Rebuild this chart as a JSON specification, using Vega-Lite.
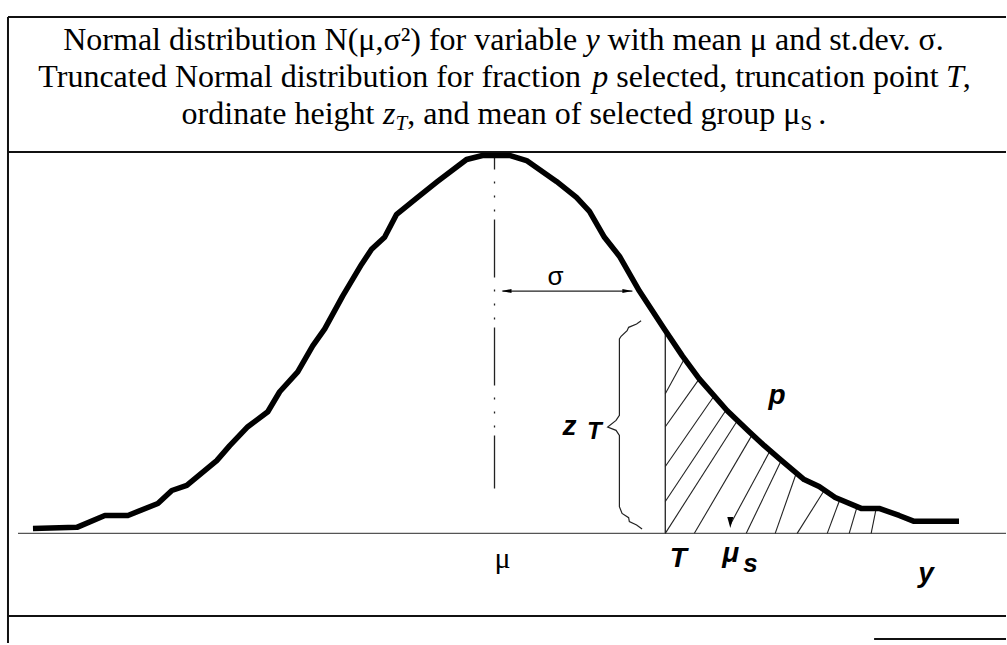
{
  "$schema": "https://vega.github.io/schema/vega-lite/v6.json",
  "width": 1007,
  "height": 645,
  "padding": 0,
  "autosize": {"type": "fit", "contains": "padding"},
  "background": "white",
  "config": {"view": {"stroke": null}},
  "datasets": {
    "frame": [
      {"sd": -3.4786, "density": 0.5424, "sd2": 3.6571, "density2": 0.5424},
      {"sd": -3.4786, "density": 0.4005, "sd2": 3.6571, "density2": 0.4005},
      {"sd": -3.4786, "density": 0.5424, "sd2": -3.4786, "density2": -0.1152},
      {"sd": -3.4786, "density": -0.0869, "sd2": 3.6571, "density2": -0.0869},
      {"sd": 2.714, "density": -0.111, "sd2": 3.6571, "density2": -0.111}
    ],
    "baseline": [
      {"sd": -3.407, "density": 0, "sd2": 3.6571, "density2": 0}
    ],
    "meanLine": [
      {"sd": 0, "density": 0.3958, "sd2": 0, "density2": 0.0471}
    ],
    "truncation": [
      {"sd": 1.221, "density": 0.2094, "sd2": 1.221, "density2": 0}
    ],
    "sigmaArrow": [
      {"sd": 0.057, "density": 0.2545, "sd2": 0.986, "density2": 0.2545}
    ],
    "hatch": [
      {"sd": 1.221, "density": 0.1466, "sd2": 1.357, "density2": 0.1832},
      {"sd": 1.221, "density": 0.112, "sd2": 1.464, "density2": 0.1623},
      {"sd": 1.221, "density": 0.0702, "sd2": 1.571, "density2": 0.1445},
      {"sd": 1.221, "density": 0.0335, "sd2": 1.657, "density2": 0.1298},
      {"sd": 1.221, "density": 0, "sd2": 1.736, "density2": 0.1183},
      {"sd": 1.429, "density": 0, "sd2": 1.843, "density2": 0.1037},
      {"sd": 1.686, "density": 0.0094, "sd2": 1.971, "density2": 0.0869},
      {"sd": 1.8, "density": 0, "sd2": 2.05, "density2": 0.0764},
      {"sd": 2.007, "density": 0, "sd2": 2.157, "density2": 0.0628},
      {"sd": 2.164, "density": 0, "sd2": 2.357, "density2": 0.045},
      {"sd": 2.379, "density": 0, "sd2": 2.464, "density2": 0.0335},
      {"sd": 2.536, "density": 0, "sd2": 2.593, "density2": 0.0283},
      {"sd": 2.693, "density": 0, "sd2": 2.729, "density2": 0.0262}
    ],
    "brace": [
      {"i": 1, "sd": 1.048, "density": 0.2234},
      {"i": 2, "sd": 1.016, "density": 0.2199},
      {"i": 3, "sd": 0.959, "density": 0.2164},
      {"i": 4, "sd": 0.948, "density": 0.2129},
      {"i": 5, "sd": 0.905, "density": 0.207},
      {"i": 6, "sd": 0.893, "density": 0.2042},
      {"i": 7, "sd": 0.893, "density": 0.1239},
      {"i": 8, "sd": 0.869, "density": 0.1186},
      {"i": 9, "sd": 0.809, "density": 0.1117},
      {"i": 10, "sd": 0.869, "density": 0.1082},
      {"i": 11, "sd": 0.893, "density": 0.1029},
      {"i": 12, "sd": 0.893, "density": 0.028},
      {"i": 13, "sd": 0.912, "density": 0.0209},
      {"i": 14, "sd": 0.959, "density": 0.0164},
      {"i": 15, "sd": 0.964, "density": 0.0123},
      {"i": 16, "sd": 1.016, "density": 0.0087},
      {"i": 17, "sd": 1.055, "density": 0.0045}
    ],
    "curve": [
      {"sd": -3.3, "density": 0.0052},
      {"sd": -2.986, "density": 0.0063},
      {"sd": -2.786, "density": 0.0188},
      {"sd": -2.621, "density": 0.0188},
      {"sd": -2.407, "density": 0.0314},
      {"sd": -2.307, "density": 0.045},
      {"sd": -2.2, "density": 0.0503},
      {"sd": -1.986, "density": 0.0764},
      {"sd": -1.893, "density": 0.0921},
      {"sd": -1.764, "density": 0.112},
      {"sd": -1.621, "density": 0.1277},
      {"sd": -1.536, "density": 0.1487},
      {"sd": -1.407, "density": 0.1696},
      {"sd": -1.3, "density": 0.1969},
      {"sd": -1.214, "density": 0.2147},
      {"sd": -1.086, "density": 0.2492},
      {"sd": -0.95, "density": 0.2827},
      {"sd": -0.879, "density": 0.2984},
      {"sd": -0.786, "density": 0.311},
      {"sd": -0.7, "density": 0.3351},
      {"sd": -0.55, "density": 0.3529},
      {"sd": -0.407, "density": 0.3696},
      {"sd": -0.2, "density": 0.3927},
      {"sd": -0.086, "density": 0.3969},
      {"sd": 0.107, "density": 0.3969},
      {"sd": 0.229, "density": 0.3916},
      {"sd": 0.443, "density": 0.3696},
      {"sd": 0.586, "density": 0.3529},
      {"sd": 0.679, "density": 0.3382},
      {"sd": 0.786, "density": 0.311},
      {"sd": 0.893, "density": 0.2911},
      {"sd": 1.036, "density": 0.2545},
      {"sd": 1.214, "density": 0.2147},
      {"sd": 1.343, "density": 0.1864},
      {"sd": 1.464, "density": 0.1623},
      {"sd": 1.664, "density": 0.1288},
      {"sd": 1.821, "density": 0.1068},
      {"sd": 1.929, "density": 0.0921},
      {"sd": 2.036, "density": 0.0785},
      {"sd": 2.214, "density": 0.0565},
      {"sd": 2.321, "density": 0.0492},
      {"sd": 2.436, "density": 0.0377},
      {"sd": 2.621, "density": 0.0262},
      {"sd": 2.75, "density": 0.0262},
      {"sd": 2.893, "density": 0.0188},
      {"sd": 3.0, "density": 0.0126},
      {"sd": 3.321, "density": 0.0126}
    ],
    "arrowLeft": [{"sd": 0.0857, "density": 0.2545}],
    "arrowRight": [{"sd": 0.95, "density": 0.2545}],
    "arrowDown": [{"sd": 1.686, "density": 0.0115}],
    "titleRoman": [
      {"sd": -3.0836, "density": 0.5079, "label": "Normal distribution N(μ,σ²) for variable"},
      {"sd": 0.8086, "density": 0.5079, "label": "with mean μ and st.dev. σ."},
      {"sd": -3.2617, "density": 0.4691, "label": "Truncated Normal distribution for fraction"},
      {"sd": 0.87, "density": 0.4691, "label": "selected, truncation point"},
      {"sd": 3.3484, "density": 0.4691, "label": ","},
      {"sd": -2.2371, "density": 0.4304, "label": "ordinate height"},
      {"sd": -0.6236, "density": 0.4304, "label": ", and mean of selected group μ"},
      {"sd": 2.315, "density": 0.4304, "label": "."}
    ],
    "titleItalic": [
      {"sd": 0.65, "density": 0.5079, "label": "y"},
      {"sd": 0.699, "density": 0.4691, "label": "p"},
      {"sd": 3.2284, "density": 0.4691, "label": "T"},
      {"sd": -0.7979, "density": 0.4304, "label": "z"}
    ],
    "titleSubItalic": [
      {"sd": -0.7086, "density": 0.4241, "label": "T"}
    ],
    "titleSubRoman": [
      {"sd": 2.1879, "density": 0.4241, "label": "S"}
    ],
    "meanLabel": [
      {"sd": 0.057, "density": -0.0368, "label": "μ"}
    ],
    "symbolLabels": [
      {"sd": 1.314, "density": -0.0357, "label": "T"},
      {"sd": 2.021, "density": 0.1361, "label": "p"},
      {"sd": 3.086, "density": -0.0513, "label": "y"},
      {"sd": 0.536, "density": 0.1037, "label": "z"}
    ],
    "symbolSub": [
      {"sd": 0.714, "density": 0.0995, "label": "T"}
    ],
    "selectedMean": [
      {"sd": 1.629, "density": -0.0305, "label": "μ"}
    ],
    "selectedSub": [
      {"sd": 1.779, "density": -0.0409, "label": "s"}
    ],
    "sigmaLabel": [
      {"sd": 0.436, "density": 0.2607, "label": "σ"}
    ]
  },
  "encoding": {
    "x": {
      "field": "sd",
      "type": "quantitative",
      "scale": {"domain": [-3.5357, 3.6571], "nice": false, "zero": false},
      "axis": null
    },
    "y": {
      "field": "density",
      "type": "quantitative",
      "scale": {"domain": [-0.11518, 0.56021], "nice": false, "zero": false},
      "axis": null
    }
  },
  "layer": [
    {
      "data": {"name": "frame"},
      "mark": {"type": "rule", "color": "#111111", "strokeWidth": 2},
      "encoding": {"x2": {"field": "sd2"}, "y2": {"field": "density2"}}
    },
    {
      "data": {"name": "baseline"},
      "mark": {"type": "rule", "color": "#555555", "strokeWidth": 1.4},
      "encoding": {"x2": {"field": "sd2"}, "y2": {"field": "density2"}}
    },
    {
      "data": {"name": "meanLine"},
      "mark": {
        "type": "rule",
        "color": "#222222",
        "strokeWidth": 1.3,
        "strokeDash": [58, 12, 2, 12, 2, 12, 2, 8],
        "strokeDashOffset": 45
      },
      "encoding": {"x2": {"field": "sd2"}, "y2": {"field": "density2"}}
    },
    {
      "data": {"name": "truncation"},
      "mark": {"type": "rule", "color": "#222222", "strokeWidth": 1.3},
      "encoding": {"x2": {"field": "sd2"}, "y2": {"field": "density2"}}
    },
    {
      "data": {"name": "sigmaArrow"},
      "mark": {"type": "rule", "color": "#222222", "strokeWidth": 1.3},
      "encoding": {"x2": {"field": "sd2"}, "y2": {"field": "density2"}}
    },
    {
      "data": {"name": "hatch"},
      "mark": {"type": "rule", "color": "#222222", "strokeWidth": 1.1},
      "encoding": {"x2": {"field": "sd2"}, "y2": {"field": "density2"}}
    },
    {
      "data": {"name": "brace"},
      "mark": {"type": "line", "color": "#222222", "strokeWidth": 1.2},
      "encoding": {"order": {"field": "i", "type": "quantitative"}}
    },
    {
      "data": {"name": "curve"},
      "mark": {
        "type": "line",
        "color": "#000000",
        "strokeWidth": 5.5,
        "strokeJoin": "round",
        "strokeCap": "butt"
      },
      "encoding": {}
    },
    {
      "data": {"name": "arrowLeft"},
      "mark": {"type": "point", "shape": "M-1,0L1,-0.4L1,0.4Z", "size": 100, "filled": true, "color": "#000000", "opacity": 1}
    },
    {
      "data": {"name": "arrowRight"},
      "mark": {"type": "point", "shape": "M1,0L-1,-0.4L-1,0.4Z", "size": 100, "filled": true, "color": "#000000", "opacity": 1}
    },
    {
      "data": {"name": "arrowDown"},
      "mark": {"type": "point", "shape": "M0,1L-0.55,-1L0.55,-1Z", "size": 121, "filled": true, "color": "#000000", "opacity": 1}
    },
    {
      "data": {"name": "titleRoman"},
      "mark": {"type": "text", "font": "Liberation Serif", "fontSize": 32, "align": "left", "baseline": "alphabetic", "color": "#000000"},
      "encoding": {"text": {"field": "label"}}
    },
    {
      "data": {"name": "titleItalic"},
      "mark": {"type": "text", "font": "Liberation Serif", "fontSize": 32, "fontStyle": "italic", "align": "left", "baseline": "alphabetic", "color": "#000000"},
      "encoding": {"text": {"field": "label"}}
    },
    {
      "data": {"name": "titleSubItalic"},
      "mark": {"type": "text", "font": "Liberation Serif", "fontSize": 21, "fontStyle": "italic", "align": "left", "baseline": "alphabetic", "color": "#000000"},
      "encoding": {"text": {"field": "label"}}
    },
    {
      "data": {"name": "titleSubRoman"},
      "mark": {"type": "text", "font": "Liberation Serif", "fontSize": 21, "align": "left", "baseline": "alphabetic", "color": "#000000"},
      "encoding": {"text": {"field": "label"}}
    },
    {
      "data": {"name": "meanLabel"},
      "mark": {"type": "text", "font": "Liberation Serif", "fontSize": 30, "align": "center", "baseline": "alphabetic", "color": "#000000"},
      "encoding": {"text": {"field": "label"}}
    },
    {
      "data": {"name": "symbolLabels"},
      "mark": {"type": "text", "font": "Liberation Sans", "fontSize": 28, "fontStyle": "italic", "fontWeight": "bold", "align": "center", "baseline": "alphabetic", "color": "#000000"},
      "encoding": {"text": {"field": "label"}}
    },
    {
      "data": {"name": "symbolSub"},
      "mark": {"type": "text", "font": "Liberation Sans", "fontSize": 24, "fontStyle": "italic", "fontWeight": "bold", "align": "center", "baseline": "alphabetic", "color": "#000000"},
      "encoding": {"text": {"field": "label"}}
    },
    {
      "data": {"name": "selectedMean"},
      "mark": {"type": "text", "font": "Liberation Sans", "fontSize": 28, "fontStyle": "italic", "fontWeight": "bold", "align": "left", "baseline": "alphabetic", "color": "#000000"},
      "encoding": {"text": {"field": "label"}}
    },
    {
      "data": {"name": "selectedSub"},
      "mark": {"type": "text", "font": "Liberation Sans", "fontSize": 26, "fontStyle": "italic", "fontWeight": "bold", "align": "left", "baseline": "alphabetic", "color": "#000000"},
      "encoding": {"text": {"field": "label"}}
    },
    {
      "data": {"name": "sigmaLabel"},
      "mark": {"type": "text", "font": "Liberation Sans", "fontSize": 26, "align": "center", "baseline": "alphabetic", "color": "#000000"},
      "encoding": {"text": {"field": "label"}}
    }
  ]
}
